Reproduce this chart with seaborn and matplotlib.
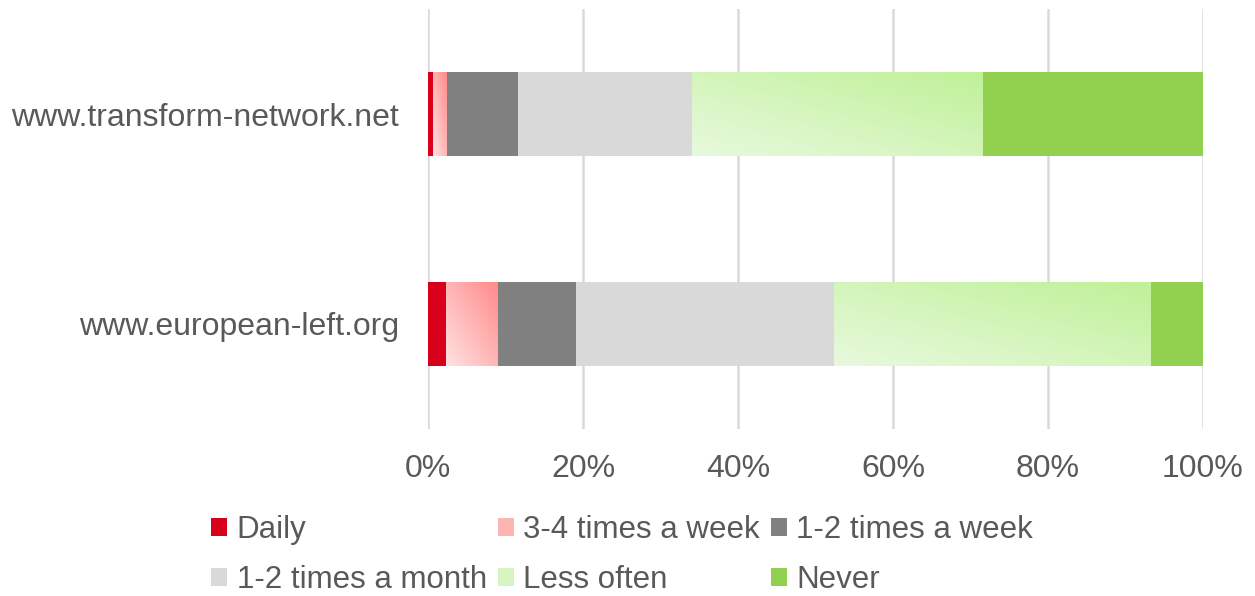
import numpy as np
import pandas as pd
import matplotlib.pyplot as plt
import seaborn as sns
from matplotlib.colors import LinearSegmentedColormap
from matplotlib.patches import Patch

# Data (share of respondents, %)
sites = ['www.transform-network.net', 'www.european-left.org']
categories = ['Daily', '3-4 times a week', '1-2 times a week',
              '1-2 times a month', 'Less often', 'Never']
daily = [0.6, 2.3]
three_four_week = [1.7, 6.7]
one_two_week = [9.3, 10.1]
one_two_month = [22.5, 33.3]
less_often = [37.5, 40.9]
never = [28.4, 6.7]

values = [daily, three_four_week, one_two_week, one_two_month, less_often, never]
colors = ['#D9001B', '#FFB4B4', '#808080', '#D9D9D9', '#D6F5C2', '#92D050']
gradients = {1: ('#FFE2E2', '#FF8A8A'), 4: ('#E8F9DE', '#BFF197')}

text_color = '#595959'
sns.set_theme(style='white')
plt.rcParams['font.family'] = ['Liberation Sans', 'DejaVu Sans']

fig = plt.figure(figsize=(12.55, 5.96), dpi=100)
ax = fig.add_axes([428 / 1255, 1 - 429 / 596, 775 / 1255, 420 / 596])

left = np.zeros(len(sites))
gradient_bars = []
for i, (cat, vals) in enumerate(zip(categories, values)):
    df = pd.DataFrame({'site': sites, 'value': vals})
    n_before = len(ax.patches)
    sns.barplot(data=df, x='value', y='site', color=colors[i], orient='h',
                width=0.4, left=left.copy(), linewidth=0, saturation=1,
                errorbar=None, ax=ax)
    if i in gradients:
        gradient_bars.append((i, ax.patches[n_before:]))
    left += np.array(vals)

# gradient fills (light bottom-left -> stronger top-right)
xx, yy = np.meshgrid(np.linspace(0, 1, 200), np.linspace(0, 1, 200))
grad = (xx + yy) / 2
for i, patches in gradient_bars:
    cmap = LinearSegmentedColormap.from_list('g%d' % i, list(gradients[i]))
    for p in patches:
        x0, y0 = p.get_x(), p.get_y()
        w, h = p.get_width(), p.get_height()
        im = ax.imshow(grad, cmap=cmap, aspect='auto', interpolation='bilinear',
                       extent=(x0, x0 + w, y0 + h, y0), origin='lower', zorder=p.get_zorder())
        im.set_clip_path(p)

ax.set_xlim(0, 100)
ax.set_ylim(1.5, -0.5)
ax.set_xticks(np.arange(0, 101, 20))
ax.set_xticklabels([f'{t}%' for t in range(0, 101, 20)])
ax.xaxis.grid(True, color='#D9D9D9', linewidth=1.8)
ax.set_axisbelow(True)
for s in ax.spines.values():
    s.set_visible(False)
ax.set_xlabel('')
ax.set_ylabel('')
ax.tick_params(axis='x', length=0, pad=18, labelsize=23, labelcolor=text_color)
ax.tick_params(axis='y', length=0, pad=21, labelsize=23, labelcolor=text_color)

# legend laid out in 3 columns, filled column by column
handles = [Patch(facecolor=c, edgecolor='none') for c in colors]
order = [0, 3, 1, 4, 2, 5]
fig.legend([handles[k] for k in order], [categories[k] for k in order],
           loc='upper left', bbox_to_anchor=(211 / 1255, 1 - 515 / 596),
           ncol=3, frameon=False, fontsize=22.5, labelcolor=text_color,
           handlelength=0.52, handleheight=0.52, handletextpad=0.3,
           columnspacing=0.35, labelspacing=0.64, borderpad=0, borderaxespad=0)

fig.savefig('out.png', dpi=100)
